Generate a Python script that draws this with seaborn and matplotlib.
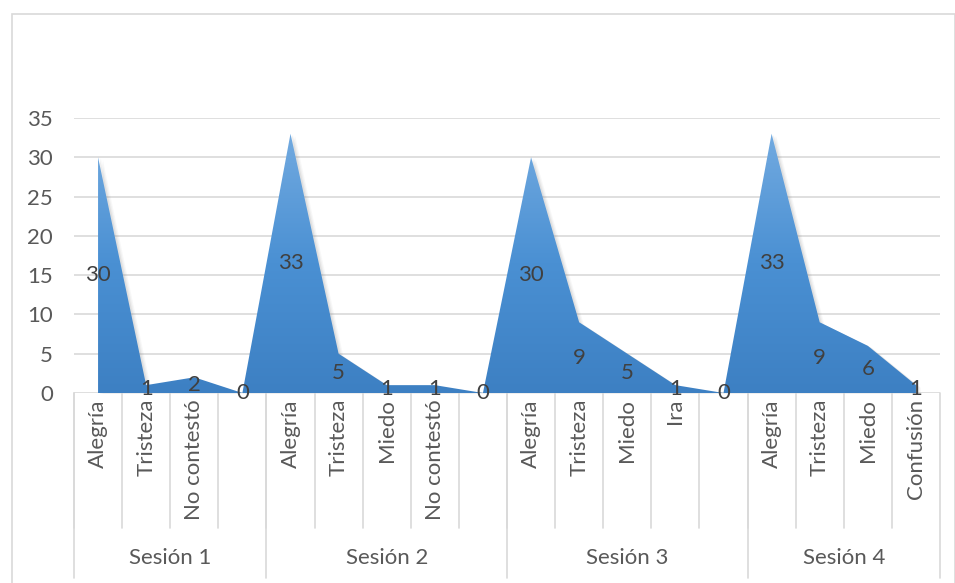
import numpy as np
import pandas as pd
import seaborn as sns
import matplotlib.pyplot as plt
from matplotlib.colors import LinearSegmentedColormap
from matplotlib.patches import Rectangle
from matplotlib.transforms import blended_transform_factory

# data
sessions = ["Sesión 1", "Sesión 2", "Sesión 3", "Sesión 4"]
s1_labels = ["Alegría", "Tristeza", "No contestó", ""]
s1_values = [30, 1, 2, 0]
s2_labels = ["Alegría", "Tristeza", "Miedo", "No contestó", ""]
s2_values = [33, 5, 1, 1, 0]
s3_labels = ["Alegría", "Tristeza", "Miedo", "Ira", ""]
s3_values = [30, 9, 5, 1, 0]
s4_labels = ["Alegría", "Tristeza", "Miedo", "Confusión"]
s4_values = [33, 9, 6, 1]

groups = [s1_labels, s2_labels, s3_labels, s4_labels]
vals = [s1_values, s2_values, s3_values, s4_values]

rows = []
for sess, labs, vv in zip(sessions, groups, vals):
    for lab, v in zip(labs, vv):
        rows.append({"session": sess, "emotion": lab, "value": v})
df = pd.DataFrame(rows)
df["pos"] = np.arange(len(df))

sns.set_theme(style="white")
plt.rcParams["font.family"] = ["Lato", "DejaVu Sans"]
text_col = "#595959"
grid_col = "#d9d9d9"
fs = 16

fig = plt.figure(figsize=(9.55, 5.83), dpi=100)
W, H = 955, 583
ax = fig.add_axes([74 / W, (H - 393) / H, (940 - 74) / W, (393 - 118) / H])

sns.lineplot(data=df, x="pos", y="value", ax=ax, linewidth=0, color="#5b9bd5")

# soft shadow, a few faint layers
for k, a in [(0.09, 0.06), (0.06, 0.08), (0.03, 0.12)]:
    ax.fill_between(df["pos"] + k, df["value"] - k * 3, 0, color="#808080", alpha=a,
                    linewidth=0, zorder=2)
# gradient area
poly = ax.fill_between(df["pos"], df["value"], 0, color="none", linewidth=0, zorder=3)
cmap = LinearSegmentedColormap.from_list("area", ["#3d80c3", "#4a90d3", "#72aae0"])
grad = np.linspace(0, 1, 256).reshape(-1, 1)
im = ax.imshow(grad, cmap=cmap, origin="lower", aspect="auto",
               extent=[-0.5, len(df) - 0.5, 0, max(df["value"])], zorder=3)
im.set_clip_path(poly.get_paths()[0], transform=ax.transData)

ax.set_xlim(-0.5, len(df) - 0.5)
ax.set_ylim(0, 35)
ax.set_yticks(range(0, 36, 5))
ax.set_xticks([])
ax.set_xlabel("")
ax.set_ylabel("")
ax.yaxis.grid(True, color=grid_col, linewidth=1.2, zorder=0)
ax.set_axisbelow(True)
for s in ax.spines.values():
    s.set_visible(False)
ax.tick_params(axis="y", length=0, pad=15, labelsize=fs, labelcolor=text_col)

# data labels at mid-height
for p, v in zip(df["pos"], df["value"]):
    ax.text(p, v / 2, str(v), ha="center", va="center", fontsize=fs,
            color="#404040", zorder=5)

# multi-level category axis
tr = blended_transform_factory(ax.transData, ax.transAxes)
inner_bot = -135 / 275
outer_bot = -185 / 275
for p, lab in zip(df["pos"], df["emotion"]):
    ax.plot([p - 0.5, p - 0.5], [0, inner_bot], transform=tr, color=grid_col,
            lw=1.2, clip_on=False)
    ax.text(p, -6 / 275, lab, transform=tr, rotation=90, ha="center", va="top",
            fontsize=fs, color=text_col)
start = 0
for sess, labs in zip(sessions, groups):
    end = start + len(labs)
    ax.plot([start - 0.5, start - 0.5], [0, outer_bot], transform=tr, color=grid_col,
            lw=1.2, clip_on=False)
    ax.text((start + end - 1) / 2, -165 / 275, sess, transform=tr, ha="center",
            va="center", fontsize=fs, color=text_col)
    start = end
ax.plot([start - 0.5, start - 0.5], [0, outer_bot], transform=tr, color=grid_col,
        lw=1.2, clip_on=False)

# chart border
fig.patches.append(Rectangle((12 / W, -0.01), (W - 12) / W, (H - 14) / H + 0.01,
                             transform=fig.transFigure, fill=False,
                             edgecolor=grid_col, linewidth=1.2))

fig.savefig("out.png", dpi=100)
